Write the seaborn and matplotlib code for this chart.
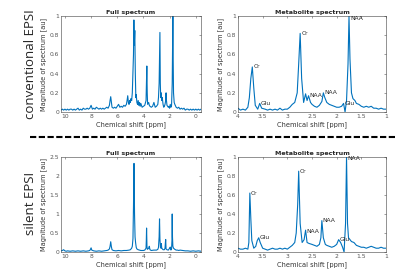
import numpy as np
import pandas as pd
import seaborn as sns
import matplotlib.pyplot as plt

sns.set_theme(style="white")
plt.rcParams['font.family'] = ['DejaVu Sans']

# conventional EPSI - full spectrum
ppm_full_conv = [10.3, 10.2, 10.1, 10.0, 9.9, 9.8, 9.7, 9.6, 9.5, 9.4, 9.3, 9.2, 9.1, 9.0,
                 8.9, 8.8, 8.7, 8.6, 8.5, 8.4, 8.3, 8.2, 8.1, 8.0, 7.9, 7.8, 7.7, 7.6, 7.5,
                 7.4, 7.3, 7.2, 7.1, 7.0, 6.9, 6.8, 6.7, 6.6, 6.55, 6.5, 6.45, 6.4, 6.3, 6.2,
                 6.1, 6.0, 5.9, 5.8, 5.7, 5.6, 5.5, 5.4, 5.3, 5.25, 5.2, 5.15, 5.1, 5.05, 5.0,
                 4.95, 4.9, 4.85, 4.8, 4.76, 4.73, 4.7, 4.66, 4.62, 4.58, 4.55, 4.5, 4.45, 4.4,
                 4.35, 4.3, 4.25, 4.2, 4.1, 4.0, 3.9, 3.8, 3.77, 3.74, 3.71, 3.68, 3.6, 3.55,
                 3.5, 3.4, 3.3, 3.2, 3.1, 3.0, 2.9, 2.85, 2.8, 2.77, 2.74, 2.71, 2.68, 2.64,
                 2.6, 2.56, 2.5, 2.45, 2.4, 2.35, 2.3, 2.27, 2.24, 2.2, 2.1, 2.05, 2.0, 1.95,
                 1.9, 1.85, 1.8, 1.77, 1.75, 1.73, 1.7, 1.65, 1.6, 1.5, 1.4, 1.3, 1.2, 1.1,
                 1.0, 0.9, 0.8, 0.7, 0.6, 0.5, 0.4, 0.3, 0.2, 0.1, 0.0, -0.1, -0.2, -0.3, -0.4]
amp_full_conv = [0.02, 0.03, 0.02, 0.03, 0.02, 0.03, 0.02, 0.03, 0.03, 0.02, 0.03, 0.02, 0.03, 0.04,
                 0.02, 0.03, 0.02, 0.04, 0.03, 0.03, 0.04, 0.03, 0.04, 0.07, 0.03, 0.04, 0.03, 0.05, 0.04,
                 0.03, 0.04, 0.03, 0.04, 0.03, 0.04, 0.05, 0.04, 0.07, 0.12, 0.16, 0.10, 0.05, 0.04, 0.05,
                 0.04, 0.06, 0.08, 0.05, 0.06, 0.05, 0.07, 0.06, 0.08, 0.12, 0.17, 0.10, 0.08, 0.12, 0.10,
                 0.14, 0.12, 0.20, 0.42, 0.60, 0.96, 0.70, 0.85, 0.40, 0.15, 0.18, 0.10, 0.08, 0.12,
                 0.07, 0.10, 0.06, 0.09, 0.05, 0.06, 0.07, 0.12, 0.30, 0.48, 0.20, 0.08, 0.10, 0.07,
                 0.06, 0.05, 0.06, 0.10, 0.05, 0.06, 0.08, 0.15, 0.30, 0.60, 0.83, 0.30, 0.15, 0.20,
                 0.12, 0.15, 0.08, 0.05, 0.06, 0.08, 0.12, 0.20, 0.12, 0.07, 0.05, 0.06, 0.04, 0.08,
                 0.05, 0.07, 0.30, 0.70, 1.00, 0.60, 0.20, 0.10, 0.08, 0.05, 0.04, 0.05, 0.03, 0.04,
                 0.03, 0.04, 0.02, 0.03, 0.03, 0.02, 0.03, 0.02, 0.03, 0.02, 0.03, 0.02, 0.03, 0.02, 0.03]

# conventional EPSI - metabolite spectrum
ppm_met_conv = [4.0, 3.95, 3.9, 3.85, 3.8, 3.77, 3.74, 3.71, 3.68, 3.65, 3.6, 3.56, 3.52, 3.45,
                3.4, 3.35, 3.3, 3.25, 3.2, 3.15, 3.1, 3.05, 3.0, 2.95, 2.9, 2.85, 2.8, 2.77,
                2.74, 2.71, 2.67, 2.63, 2.6, 2.57, 2.53, 2.5, 2.45, 2.4, 2.35, 2.3, 2.27, 2.24,
                2.2, 2.15, 2.1, 2.05, 2.0, 1.95, 1.9, 1.86, 1.83, 1.8, 1.77, 1.75, 1.73, 1.7,
                1.67, 1.63, 1.6, 1.55, 1.5, 1.45, 1.4, 1.35, 1.3, 1.25, 1.2, 1.15, 1.1, 1.05, 1.0]
amp_met_conv = [0.04, 0.02, 0.03, 0.02, 0.05, 0.15, 0.35, 0.47, 0.25, 0.07, 0.03, 0.09, 0.04, 0.03,
                0.02, 0.03, 0.02, 0.03, 0.02, 0.04, 0.02, 0.03, 0.03, 0.05, 0.08, 0.10, 0.20, 0.50,
                0.82, 0.35, 0.10, 0.19, 0.12, 0.17, 0.10, 0.08, 0.06, 0.05, 0.07, 0.11, 0.20, 0.15,
                0.10, 0.08, 0.07, 0.06, 0.05, 0.05, 0.06, 0.09, 0.00, 0.12, 0.50, 1.00, 0.55, 0.20,
                0.14, 0.12, 0.09, 0.08, 0.06, 0.05, 0.06, 0.05, 0.06, 0.04, 0.04, 0.03, 0.04, 0.03, 0.03]

# silent EPSI - full spectrum
ppm_full_sil = [10.3, 10.2, 10.1, 10.0, 9.9, 9.8, 9.6, 9.4, 9.2, 9.0, 8.8, 8.6, 8.4, 8.2, 8.1,
                8.05, 8.0, 7.95, 7.8, 7.6, 7.4, 7.2, 7.0, 6.8, 6.7, 6.6, 6.55, 6.5, 6.45, 6.4,
                6.3, 6.1, 5.9, 5.7, 5.5, 5.3, 5.1, 5.0, 4.9, 4.85, 4.8, 4.76, 4.72, 4.68, 4.64,
                4.6, 4.55, 4.5, 4.4, 4.3, 4.2, 4.0, 3.9, 3.8, 3.78, 3.76, 3.73, 3.7, 3.6, 3.55,
                3.5, 3.4, 3.2, 3.0, 2.9, 2.85, 2.8, 2.77, 2.74, 2.7, 2.66, 2.63, 2.6, 2.55, 2.5,
                2.4, 2.35, 2.32, 2.3, 2.27, 2.2, 2.1, 2.0, 1.95, 1.9, 1.85, 1.82, 1.8, 1.78,
                1.75, 1.7, 1.6, 1.5, 1.4, 1.3, 1.2, 1.0, 0.8, 0.6, 0.4, 0.2, 0.0, -0.2, -0.4]
amp_full_sil = [0.03, 0.04, 0.06, 0.03, 0.02, 0.03, 0.02, 0.03, 0.02, 0.03, 0.02, 0.03, 0.02, 0.03, 0.04,
                0.07, 0.11, 0.05, 0.03, 0.02, 0.03, 0.02, 0.03, 0.04, 0.05, 0.08, 0.15, 0.27, 0.14, 0.06,
                0.04, 0.03, 0.04, 0.03, 0.04, 0.04, 0.05, 0.06, 0.10, 0.15, 0.35, 1.20, 2.33, 1.00, 0.40,
                0.25, 0.12, 0.08, 0.06, 0.05, 0.04, 0.04, 0.05, 0.10, 0.30, 0.63, 0.15, 0.07, 0.10, 0.15,
                0.06, 0.04, 0.05, 0.05, 0.07, 0.12, 0.40, 0.87, 0.35, 0.12, 0.10, 0.22, 0.10, 0.08, 0.06,
                0.06, 0.10, 0.25, 0.33, 0.08, 0.06, 0.05, 0.10, 0.13, 0.05, 0.08, 0.30, 1.00, 0.40,
                0.15, 0.10, 0.07, 0.05, 0.05, 0.04, 0.05, 0.04, 0.03, 0.03, 0.02, 0.03, 0.02, 0.03, 0.02]

# silent EPSI - metabolite spectrum
ppm_met_sil = [4.0, 3.95, 3.9, 3.85, 3.8, 3.78, 3.76, 3.74, 3.72, 3.68, 3.64, 3.61, 3.58, 3.55,
               3.5, 3.45, 3.4, 3.35, 3.3, 3.25, 3.2, 3.15, 3.1, 3.05, 3.0, 2.95, 2.9, 2.85,
               2.82, 2.79, 2.77, 2.74, 2.7, 2.66, 2.63, 2.6, 2.56, 2.5, 2.45, 2.4, 2.35, 2.32,
               2.3, 2.27, 2.23, 2.2, 2.15, 2.1, 2.05, 2.0, 1.96, 1.92, 1.88, 1.85, 1.82, 1.8,
               1.78, 1.76, 1.73, 1.7, 1.65, 1.6, 1.55, 1.5, 1.45, 1.4, 1.35, 1.3, 1.25, 1.2,
               1.15, 1.1, 1.05, 1.0]
amp_met_sil = [0.04, 0.03, 0.03, 0.04, 0.03, 0.10, 0.62, 0.35, 0.12, 0.04, 0.06, 0.12, 0.15, 0.10,
               0.04, 0.03, 0.02, 0.03, 0.04, 0.03, 0.03, 0.04, 0.03, 0.04, 0.03, 0.05, 0.07, 0.10,
               0.20, 0.50, 0.85, 0.30, 0.10, 0.13, 0.23, 0.10, 0.09, 0.08, 0.07, 0.06, 0.08, 0.15,
               0.33, 0.15, 0.08, 0.07, 0.06, 0.05, 0.06, 0.08, 0.13, 0.10, 0.05, 0.00, 0.30, 1.00,
               0.30, 0.15, 0.13, 0.11, 0.10, 0.07, 0.06, 0.05, 0.05, 0.04, 0.05, 0.06, 0.05, 0.04,
               0.04, 0.05, 0.04, 0.04]

# peak labels: (name, ppm, height)
labels_conv = [("Cr", 3.71, 0.47), ("Glu", 3.56, 0.09), ("Cr", 2.74, 0.82), ("NAA", 2.57, 0.17),
               ("NAA", 2.27, 0.20), ("Glu", 1.86, 0.09), ("NAA", 1.75, 0.98)]
labels_sil = [("Cr", 3.76, 0.62), ("Glu", 3.58, 0.15), ("Cr", 2.77, 0.85), ("NAA", 2.63, 0.22),
              ("NAA", 2.30, 0.33), ("Glu", 1.96, 0.13), ("NAA", 1.80, 0.98)]

blue = "#0072BD"
fs = 4.3

fig = plt.figure(figsize=(4.0, 2.78), dpi=100)
ax_fc = fig.add_axes([0.1525, 0.597, 0.35, 0.345])
ax_mc = fig.add_axes([0.595, 0.597, 0.37, 0.345])
ax_fs = fig.add_axes([0.1525, 0.0935, 0.35, 0.342])
ax_ms = fig.add_axes([0.595, 0.0935, 0.37, 0.342])


def style(ax, title, xlim, xticks, xlabels, ylim, yticks, ylabels):
    ax.set_xlim(*xlim)
    ax.set_ylim(*ylim)
    ax.set_xticks(xticks)
    ax.set_xticklabels(xlabels)
    ax.set_yticks(yticks)
    ax.set_yticklabels(ylabels)
    ax.tick_params(direction="in", length=1.5, width=0.4, labelsize=fs, pad=1.5,
                   colors="#555555", top=True, right=True)
    for s in ax.spines.values():
        s.set_linewidth(0.4)
        s.set_color("#404040")
    ax.set_title(title, fontsize=4.6, fontweight="bold", pad=1.5)
    ax.set_xlabel("Chemical shift [ppm]", fontsize=4.8, labelpad=1.5, color="#333333")
    ax.set_ylabel("Magnitude of spectrum [au]", fontsize=4.8, labelpad=1.5, color="#333333")


sets = [
    (ax_fc, ppm_full_conv, amp_full_conv),
    (ax_mc, ppm_met_conv, amp_met_conv),
    (ax_fs, ppm_full_sil, amp_full_sil),
    (ax_ms, ppm_met_sil, amp_met_sil),
]
for ax, x, y in sets:
    df = pd.DataFrame({"ppm": x, "amp": y})
    sns.lineplot(data=df, x="ppm", y="amp", ax=ax, color=blue, linewidth=0.8, sort=False)

full_ticks = [10, 8, 6, 4, 2, 0]
met_ticks = [4, 3.5, 3, 2.5, 2, 1.5, 1]
met_lbls = ["4", "3.5", "3", "2.5", "2", "1.5", "1"]
y1 = [0, 0.2, 0.4, 0.6, 0.8, 1]
y1l = ["0", "0.2", "0.4", "0.6", "0.8", "1"]
y25 = [0, 0.5, 1, 1.5, 2, 2.5]
y25l = ["0", "0.5", "1", "1.5", "2", "2.5"]

style(ax_fc, "Full spectrum", (10.3, -0.4), full_ticks, [str(v) for v in full_ticks], (0, 1), y1, y1l)
style(ax_mc, "Metabolite spectrum", (4, 1), met_ticks, met_lbls, (0, 1), y1, y1l)
style(ax_fs, "Full spectrum", (10.3, -0.4), full_ticks, [str(v) for v in full_ticks], (0, 2.5), y25, y25l)
style(ax_ms, "Metabolite spectrum", (4, 1), met_ticks, met_lbls, (0, 1), y1, y1l)

for ax, labs in [(ax_mc, labels_conv), (ax_ms, labels_sil)]:
    for name, px, py in labs:
        ax.text(px - 0.02, py, name, fontsize=fs, va="center", ha="left", color="#262626")

fig.text(0.075, 0.77, "conventional EPSI", rotation=90, fontsize=9.5, ha="center", va="center",
         family="Open Sans")
fig.text(0.075, 0.27, "silent EPSI", rotation=90, fontsize=9.5, ha="center", va="center",
         family="Open Sans")
fig.add_artist(plt.Line2D([0.075, 0.99], [0.507, 0.507], color="black", linewidth=1.5,
                          linestyle=(0, (3, 1.2)), transform=fig.transFigure))

fig.savefig("out.png", dpi=100)
